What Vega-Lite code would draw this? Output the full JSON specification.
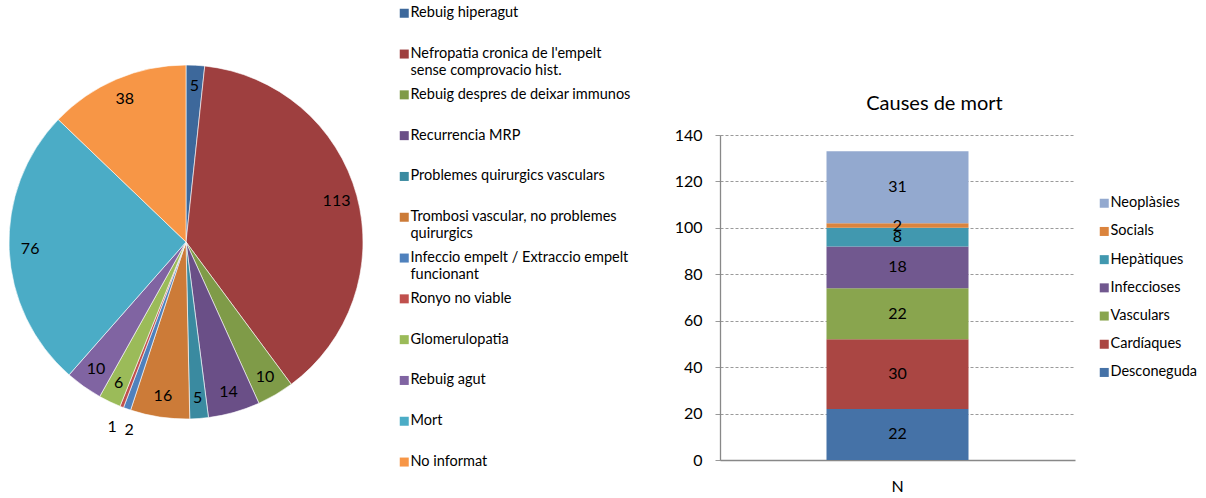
{
  "$schema": "https://vega.github.io/schema/vega-lite/v6.json",
  "background": "white",
  "padding": {"top": 6, "left": 0, "right": 0, "bottom": 0},
  "autosize": {"type": "pad"},
  "bounds": "flush",
  "spacing": 348,
  "resolve": {"scale": {"color": "independent"}, "legend": {"color": "independent"}},
  "config": {
    "font": "Lato",
    "view": {"stroke": null},
    "legend": {"padding": 0, "symbolStrokeWidth": 0, "labelColor": "black", "labelFont": "Lato"}
  },
  "hconcat": [
    {
      "width": 372,
      "height": 214,
      "data": {
        "values": [
          {"cause": "Rebuig hiperagut", "value": 5, "rank": 1},
          {"cause": "Nefropatia cronica de l'empelt sense comprovacio hist.", "value": 113, "rank": 2},
          {"cause": "Rebuig despres de deixar immunos", "value": 10, "rank": 3},
          {"cause": "Recurrencia MRP", "value": 14, "rank": 4},
          {"cause": "Problemes quirurgics vasculars", "value": 5, "rank": 5},
          {"cause": "Trombosi vascular, no problemes quirurgics", "value": 16, "rank": 6},
          {"cause": "Infeccio empelt / Extraccio empelt funcionant", "value": 2, "rank": 7},
          {"cause": "Ronyo no viable", "value": 1, "rank": 8},
          {"cause": "Glomerulopatia", "value": 6, "rank": 9},
          {"cause": "Rebuig agut", "value": 10, "rank": 10},
          {"cause": "Mort", "value": 76, "rank": 11},
          {"cause": "No informat", "value": 38, "rank": 12}
        ]
      },
      "transform": [
        {"stack": "value", "groupby": [], "sort": [{"field": "rank", "order": "ascending"}], "as": ["s0", "s1"]},
        {"calculate": "(datum.s0 + datum.s1) / 2", "as": "smid"}
      ],
      "layer": [
        {
          "mark": {"type": "arc", "outerRadius": 177, "stroke": "white", "strokeWidth": 0.6},
          "encoding": {
            "theta": {"field": "s0", "type": "quantitative", "scale": {"domain": [0, 296]}},
            "theta2": {"field": "s1"},
            "color": {
              "field": "cause",
              "type": "nominal",
              "sort": null,
              "scale": {
                "domain": ["Rebuig hiperagut", "Nefropatia cronica de l'empelt sense comprovacio hist.", "Rebuig despres de deixar immunos", "Recurrencia MRP", "Problemes quirurgics vasculars", "Trombosi vascular, no problemes quirurgics", "Infeccio empelt / Extraccio empelt funcionant", "Ronyo no viable", "Glomerulopatia", "Rebuig agut", "Mort", "No informat"],
                "range": ["#3D689B", "#9E3F3F", "#7F9B48", "#6A4F87", "#3A8AA0", "#CC7B38", "#4F81BD", "#C0504D", "#9BBB59", "#8064A2", "#4BACC6", "#F79646"]
              },
              "legend": {
                "title": null,
                "orient": "none",
                "legendX": 397,
                "legendY": -129,
                "symbolType": "square",
                "symbolSize": 81,
                "labelFontSize": 14.5,
                "labelLimit": 400,
                "gridAlign": "all",
                "rowPadding": 8.8,
                "labelOffset": -1,
                "labelExpr": "length(datum.label) > 32 ? [substring(datum.label, 0, lastindexof(substring(datum.label, 0, 35), ' ')), substring(datum.label, lastindexof(substring(datum.label, 0, 35), ' ') + 1)] : datum.label"
              }
            }
          }
        },
        {
          "transform": [{"filter": "datum.value >= 5"}],
          "mark": {"type": "text", "radius": 156, "fontSize": 16, "color": "black", "align": "center", "baseline": "middle"},
          "encoding": {
            "theta": {"field": "smid", "type": "quantitative"},
            "text": {"field": "value", "type": "quantitative"}
          }
        },
        {
          "transform": [{"filter": "datum.value == 2"}],
          "mark": {"type": "text", "radius": 198, "fontSize": 16, "color": "black", "align": "center", "baseline": "middle", "dx": 9, "dy": 1},
          "encoding": {
            "theta": {"field": "smid", "type": "quantitative"},
            "text": {"field": "value", "type": "quantitative"}
          }
        },
        {
          "transform": [{"filter": "datum.value == 1"}],
          "mark": {"type": "text", "radius": 198, "fontSize": 16, "color": "black", "align": "center", "baseline": "middle", "dx": -2, "dy": 1},
          "encoding": {
            "theta": {"field": "smid", "type": "quantitative"},
            "text": {"field": "value", "type": "quantitative"}
          }
        }
      ]
    },
    {
      "width": 355,
      "height": 325,
      "title": {"text": "Causes de mort", "fontSize": 20, "fontWeight": "normal", "font": "Lato", "anchor": "middle", "dx": 37, "frame": "group", "baseline": "alphabetic", "offset": -3, "color": "black"},
      "data": {
        "values": [
          {"serie": "N", "cause": "Desconeguda", "value": 22, "rank": 1},
          {"serie": "N", "cause": "Cardíaques", "value": 30, "rank": 2},
          {"serie": "N", "cause": "Vasculars", "value": 22, "rank": 3},
          {"serie": "N", "cause": "Infeccioses", "value": 18, "rank": 4},
          {"serie": "N", "cause": "Hepàtiques", "value": 8, "rank": 5},
          {"serie": "N", "cause": "Socials", "value": 2, "rank": 6},
          {"serie": "N", "cause": "Neoplàsies", "value": 31, "rank": 7}
        ]
      },
      "transform": [
        {"stack": "value", "groupby": ["serie"], "sort": [{"field": "rank", "order": "ascending"}], "as": ["v0", "v1"]},
        {"calculate": "(datum.v0 + datum.v1) / 2", "as": "mid"}
      ],
      "encoding": {
        "x": {
          "field": "serie",
          "type": "nominal",
          "scale": {"paddingInner": 0.6, "paddingOuter": 0.3},
          "axis": {"title": null, "ticks": false, "labelAngle": 0, "labelFontSize": 16, "labelPadding": 18, "labelColor": "black", "domainColor": "#888888", "domainWidth": 1.3}
        }
      },
      "layer": [
        {
          "mark": {"type": "bar"},
          "encoding": {
            "y": {
              "field": "v0",
              "type": "quantitative",
              "scale": {"domain": [0, 140]},
              "axis": {"title": null, "values": [0, 20, 40, 60, 80, 100, 120, 140], "grid": true, "gridDash": [3, 2], "gridColor": "#9a9a9a", "gridWidth": 1, "domainColor": "#888888", "domainWidth": 1.3, "tickColor": "#999999", "tickSize": 5, "labelFontSize": 16, "labelPadding": 13, "labelColor": "black"}
            },
            "y2": {"field": "v1"},
            "color": {
              "field": "cause",
              "type": "nominal",
              "scale": {
                "domain": ["Neoplàsies", "Socials", "Hepàtiques", "Infeccioses", "Vasculars", "Cardíaques", "Desconeguda"],
                "range": ["#93A9CF", "#DB843D", "#4198AF", "#71588F", "#89A54E", "#AA4643", "#4572A7"]
              },
              "legend": {
                "title": null,
                "orient": "none",
                "legendX": 377,
                "legendY": 61,
                "symbolType": "square",
                "symbolSize": 81,
                "labelFontSize": 14.5,
                "rowPadding": 13.2,
                "labelOffset": -1
              }
            }
          }
        },
        {
          "mark": {"type": "text", "fontSize": 16, "color": "black", "align": "center", "baseline": "middle"},
          "encoding": {
            "y": {"field": "mid", "type": "quantitative"},
            "text": {"field": "value", "type": "quantitative"}
          }
        }
      ]
    }
  ]
}
